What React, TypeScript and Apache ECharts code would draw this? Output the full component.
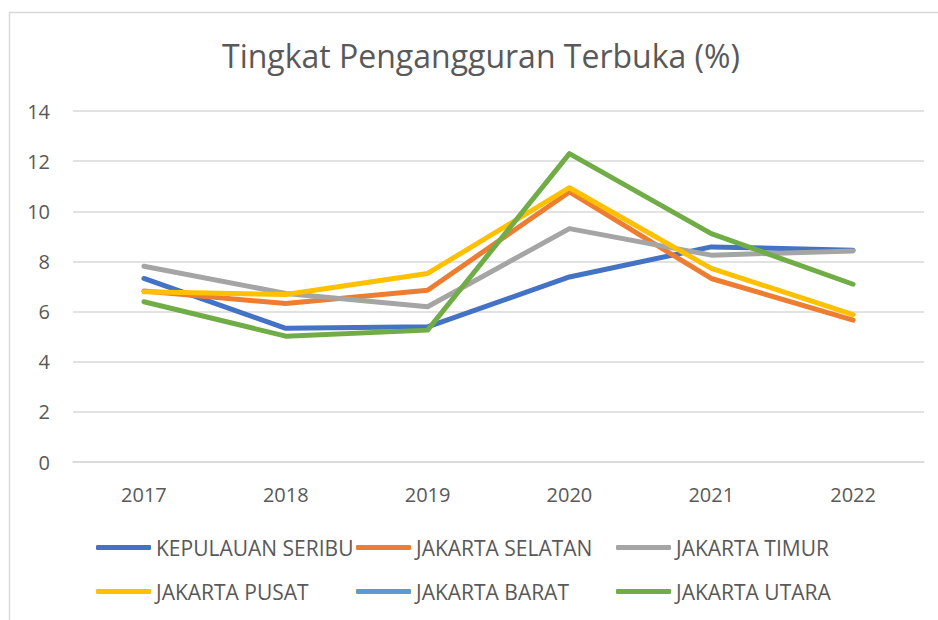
import React, { useEffect, useRef } from "react";
import * as echarts from "echarts";

const years = ["2017", "2018", "2019", "2020", "2021", "2022"];
const seriesNames = [
  "KEPULAUAN SERIBU",
  "JAKARTA SELATAN",
  "JAKARTA TIMUR",
  "JAKARTA PUSAT",
  "JAKARTA BARAT",
  "JAKARTA UTARA",
];
const kepulauanSeribu = [7.32, 5.33, 5.39, 7.38, 8.58, 8.45];
const jakartaSelatan = [6.82, 6.32, 6.85, 10.77, 7.32, 5.66];
const jakartaTimur = [7.81, 6.72, 6.19, 9.31, 8.25, 8.42];
const jakartaPusat = [6.79, 6.68, 7.52, 10.94, 7.72, 5.88];
const jakartaBarat: (number | null)[] = [null, null, null, null, null, null];
const jakartaUtara = [6.39, 5.02, 5.26, 12.3, 9.11, 7.09];
const seriesData = [kepulauanSeribu, jakartaSelatan, jakartaTimur, jakartaPusat, jakartaBarat, jakartaUtara];
const colors = ["#4472C4", "#ED7D31", "#A5A5A5", "#FFC000", "#5B9BD5", "#70AD47"];

const FONT = "'Open Sans', sans-serif";
const TEXT = "#595959";

export default function App() {
  const ref = useRef<HTMLDivElement>(null);
  useEffect(() => {
    if (!ref.current) return;
    const chart = echarts.init(ref.current, null, { renderer: "svg" });
    const legendPos = [
      [96, 537],
      [356, 537],
      [616, 537],
      [96, 581],
      [356, 581],
      [616, 581],
    ];
    chart.setOption({
      animation: false,
      backgroundColor: "#ffffff",
      title: {
        text: "Tingkat Pengangguran Terbuka (%)",
        left: 217,
        top: 34,
        textStyle: { fontFamily: FONT, fontSize: 32, fontWeight: "normal", color: TEXT },
      },
      graphic: [
        {
          type: "rect",
          shape: { x: 9.5, y: 12.5, width: 1000, height: 800 },
          style: { fill: "none", stroke: "#D9D9D9", lineWidth: 1.5 },
          silent: true,
        },
      ],
      legend: seriesNames.map((name, i) => ({
        data: [name],
        left: legendPos[i][0],
        top: legendPos[i][1],
        icon: "roundRect",
        itemWidth: 55,
        itemHeight: 5,
        padding: 0,
        textStyle: { fontFamily: FONT, fontSize: 21, color: TEXT },
        selectedMode: false,
      })),
      grid: { left: 73, right: 14, top: 111, bottom: 158 },
      xAxis: {
        type: "category",
        data: years,
        boundaryGap: true,
        axisLine: { show: true, lineStyle: { color: "#D9D9D9", width: 1.5 } },
        axisTick: { show: false },
        axisLabel: { fontFamily: FONT, fontSize: 20, color: TEXT, margin: 22 },
      },
      yAxis: {
        type: "value",
        min: 0,
        max: 14,
        interval: 2,
        axisLine: { show: false },
        axisTick: { show: false },
        splitLine: { lineStyle: { color: "#D9D9D9", width: 1.5 } },
        axisLabel: { fontFamily: FONT, fontSize: 20, color: TEXT, margin: 23 },
      },
      series: seriesNames.map((name, i) => ({
        name,
        type: "line",
        data: seriesData[i],
        color: colors[i],
        showSymbol: false,
        symbol: "none",
        lineStyle: { width: 5, color: colors[i], cap: "round", join: "round" },
      })),
    });
    return () => chart.dispose();
  }, []);
  return (
    <div
      ref={ref}
      style={{ position: "fixed", left: 0, top: 0, width: 938, height: 620 }}
    />
  );
}
